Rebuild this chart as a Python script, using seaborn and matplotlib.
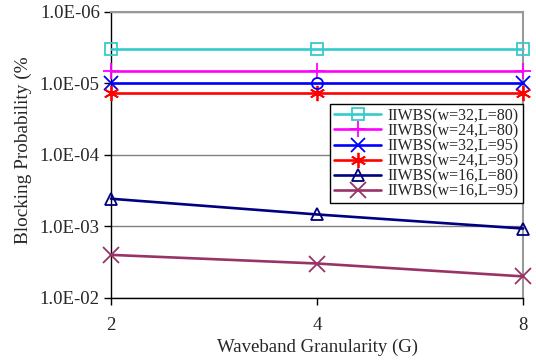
import matplotlib
matplotlib.use("Agg")
import matplotlib.pyplot as plt
import matplotlib.ticker as mticker
import numpy as np
import pandas as pd
import seaborn as sns

# ---- data ----
granularity = [2, 4, 8]
labels = ["IIWBS(w=32,L=80)", "IIWBS(w=24,L=80)", "IIWBS(w=32,L=95)",
          "IIWBS(w=24,L=95)", "IIWBS(w=16,L=80)", "IIWBS(w=16,L=95)"]
w32_L80 = [3.3e-6, 3.3e-6, 3.3e-6]
w24_L80 = [6.6e-6, 6.6e-6, 6.6e-6]
w32_L95 = [1.0e-5, 1.0e-5, 1.0e-5]
w24_L95 = [1.35e-5, 1.35e-5, 1.35e-5]
w16_L80 = [4.1e-4, 6.8e-4, 1.07e-3]
w16_L95 = [2.5e-3, 3.3e-3, 5.0e-3]
y_ticks = [1e-6, 1e-5, 1e-4, 1e-3, 1e-2]
y_tick_labels = ["1.0E-06", "1.0E-05", "1.0E-04", "1.0E-03", "1.0E-02"]
x_label = "Waveband Granularity (G)"
y_label = "Blocking Probability (%"

series = [w32_L80, w24_L80, w32_L95, w24_L95, w16_L80, w16_L95]
colors = ["#33CCCC", "#FF00FF", "#0000FF", "#FF0000", "#000080", "#993366"]
markers = ["s", "+", "x", (6, 2, 0), "^", "x"]
msizes = [9, 12, 10, 11, 9, 11]

sns.set_theme(style="white")
plt.rcParams["font.family"] = ["Liberation Serif", "DejaVu Serif"]

fig = plt.figure(figsize=(5.36, 3.62), dpi=100)
ax = fig.add_axes([0.207, 0.177, 0.769, 0.790])

for vals, lab, c, m, ms in zip(series, labels, colors, markers, msizes):
    df = pd.DataFrame({"G": granularity, "P": vals})
    kw = dict(marker=m, markersize=ms, markeredgewidth=1.3, color=c,
              linewidth=1.9, markerfacecolor="none", markeredgecolor=c,
              clip_on=False, zorder=3)
    if lab == "IIWBS(w=32,L=95)":
        kw["markevery"] = [0, 2]
    sns.lineplot(data=df, x="G", y="P", ax=ax, label=lab, **kw)
    if lab == "IIWBS(w=32,L=95)":
        ax.plot(granularity[1:2], vals[1:2], linestyle="none", marker="o",
                markersize=8, markerfacecolor="none", markeredgecolor=c,
                markeredgewidth=1.3, zorder=4)

ax.set_xscale("log", base=2)
ax.set_yscale("log")
ax.set_xlim(2, 8)
ax.set_ylim(1e-2, 1e-6)
ax.set_xticks(granularity)
ax.set_xticklabels([str(g) for g in granularity])
ax.xaxis.set_minor_locator(mticker.NullLocator())
ax.set_yticks(y_ticks)
ax.set_yticklabels(y_tick_labels)
ax.yaxis.set_minor_locator(mticker.NullLocator())

ax.grid(True, axis="y", color="#808080", linewidth=1.0)
ax.grid(False, axis="x")
ax.set_axisbelow(True)

for s in ["left", "bottom"]:
    ax.spines[s].set_color("black")
    ax.spines[s].set_linewidth(1.0)
for s in ["top", "right"]:
    ax.spines[s].set_color("#999999")
    ax.spines[s].set_linewidth(1.5)

ax.tick_params(axis="both", which="major", direction="out", length=5,
               width=1.0, color="black", labelsize=13.5, pad=3,
               left=True, bottom=True)
ax.tick_params(axis="x", pad=9)

ax.set_xlabel(x_label, fontsize=13.5, labelpad=3)
ax.set_ylabel("")
fig.text(0.043, 0.586, y_label, rotation=90, fontsize=13.9,
         ha="center", va="center")

leg = ax.legend(loc="upper right", bbox_to_anchor=(1.0, 0.678),
                borderaxespad=0, fontsize=11.5, labelspacing=-0.06,
                handlelength=2.9, handletextpad=0.45, borderpad=0.25,
                frameon=True, fancybox=False, framealpha=1)
leg.get_frame().set_edgecolor("black")
leg.get_frame().set_linewidth(1.0)

fig.savefig("out.png", dpi=100)
